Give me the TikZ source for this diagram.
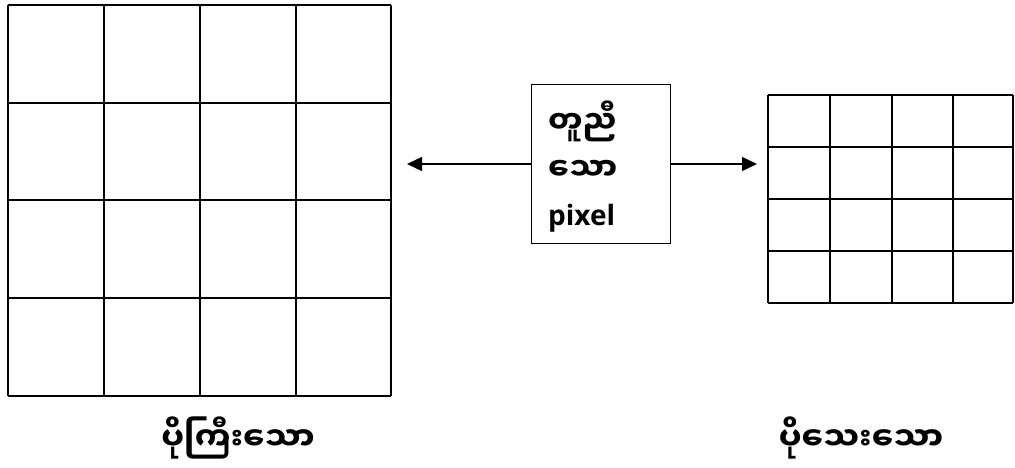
\documentclass[tikz,border=0pt]{standalone}
\usepackage{fontspec}
\setmainfont{Open Sans}
\newfontfamily\mya[Script=Myanmar]{Noto Sans Myanmar UI}
\usetikzlibrary{arrows.meta}
\begin{document}
\begin{tikzpicture}[x=1pt,y=-1pt,
  gridline/.style={line width=1.5pt,black},
  boxstyle/.style={draw,line width=1pt,minimum width=139pt,minimum height=158pt,inner sep=0pt},
  conn/.style={line width=1.3pt,-{Triangle[length=15pt,width=14pt]}},
  boxtext/.style={anchor=west,inner sep=0pt,font=\bfseries\fontsize{28}{30}\selectfont},
  mytext/.style={inner sep=0pt,font=\mya\bfseries\fontsize{31}{36}\selectfont},
  label/.style={inner sep=0pt,font=\mya\bfseries\fontsize{32}{36}\selectfont}]
\useasboundingbox (0,0) rectangle (1015,468);
% left grid
\foreach \x in {8,104,200,296,391} \draw[gridline] (\x,5) -- (\x,396);
\foreach \y in {5,103,200,298,396} \draw[gridline] (8,\y) -- (391,\y);
% right grid
\foreach \x in {768,830,892,953,1013} \draw[gridline] (\x,95) -- (\x,303);
\foreach \y in {95,147,199,251,303} \draw[gridline] (768,\y) -- (1013,\y);
% middle box
\node[boxstyle] (box) at (600.5,164) {};
\node[mytext,anchor=west] (t1) at (548,121) {တူညီ};
\node[mytext,anchor=west] (t2) at (548,170) {သော};
\node[boxtext] (t3) at (548,218) {pixel};
% arrows
\coordinate (lt) at (407,164);
\coordinate (rt) at (757,164);
\draw[conn] (box.west) -- (lt);
\draw[conn] (box.east) -- (rt);
% labels
\node[label] (l1) at (238,438) {ပိုကြီးသော};
\node[label] (l2) at (861,438) {ပိုသေးသော};
\end{tikzpicture}
\end{document}
